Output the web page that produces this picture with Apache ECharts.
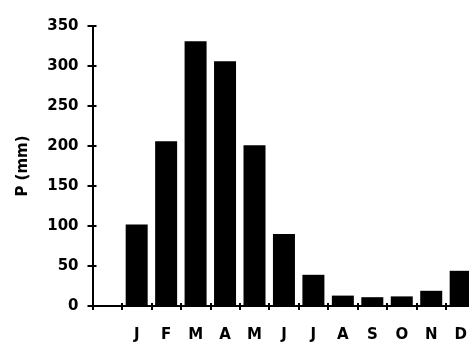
<!DOCTYPE html>
<html>
<head>
<meta charset="utf-8">
<script src="https://cdn.jsdelivr.net/npm/echarts@6/dist/echarts.min.js"></script>
<style>
  html, body { margin: 0; padding: 0; background: #fff; overflow: hidden; width: 469px; height: 343px; }
  /* canvas is a little wider than the page so the last bar is cut by the edge */
  #chart { width: 476px; height: 343px; }
</style>
</head>
<body>
<div id="chart"></div>
<script>
// Monthly precipitation; the first slot is an empty lead-in on the axis
var months = ['', 'J', 'F', 'M', 'A', 'M', 'J', 'J', 'A', 'S', 'O', 'N', 'D'];
var precipitation = [null, 102, 206, 331, 306, 201, 90, 39, 13, 11, 12, 19, 44];
var yTicks = { min: 0, max: 350, step: 50 };

var FONT = 'DejaVu Sans';
var axisLine = { show: true, lineStyle: { color: '#000', width: 2 } };

var chart = echarts.init(document.getElementById('chart'), null, { renderer: 'canvas' });
chart.setOption({
  animation: false,
  backgroundColor: '#fff',
  grid: { left: 92.5, top: 26, bottom: 36.5, right: 0.6, containLabel: false },
  xAxis: [
    {
      type: 'category',
      data: months,
      boundaryGap: true,
      axisLine: axisLine,
      axisTick: { show: true, length: 4, lineStyle: { color: '#000', width: 2 } },
      axisLabel: {
        color: '#000', fontFamily: FONT, fontWeight: 'bold', fontSize: 15,
        margin: 22, interval: 0
      },
      splitLine: { show: false }
    },
    {
      // inward tick marks so each tick crosses the axis line
      type: 'category',
      data: months,
      position: 'bottom',
      boundaryGap: true,
      axisLine: { show: false },
      axisTick: { show: true, inside: true, length: 3, lineStyle: { color: '#000', width: 2 } },
      axisLabel: { show: false },
      splitLine: { show: false }
    }
  ],
  yAxis: [
    {
      type: 'value',
      min: yTicks.min, max: yTicks.max, interval: yTicks.step,
      name: 'P (mm)',
      nameLocation: 'middle',
      nameGap: 62,
      nameRotate: 90,
      nameTextStyle: { color: '#000', fontFamily: FONT, fontWeight: 'bold', fontSize: 15 },
      axisLine: axisLine,
      axisTick: { show: true, length: 5, lineStyle: { color: '#000', width: 2 } },
      axisLabel: {
        color: '#000', fontFamily: FONT, fontWeight: 'bold', fontSize: 15, margin: 14
      },
      splitLine: { show: false }
    },
    {
      type: 'value',
      min: yTicks.min, max: yTicks.max, interval: yTicks.step,
      position: 'left',
      axisLine: { show: false },
      axisTick: { show: true, inside: true, length: 4, lineStyle: { color: '#000', width: 2 } },
      axisLabel: { show: false },
      splitLine: { show: false }
    }
  ],
  series: [
    {
      type: 'bar',
      data: precipitation,
      xAxisIndex: 0,
      yAxisIndex: 0,
      barWidth: 22,
      itemStyle: { color: '#000' }
    }
  ]
});
</script>
</body>
</html>
